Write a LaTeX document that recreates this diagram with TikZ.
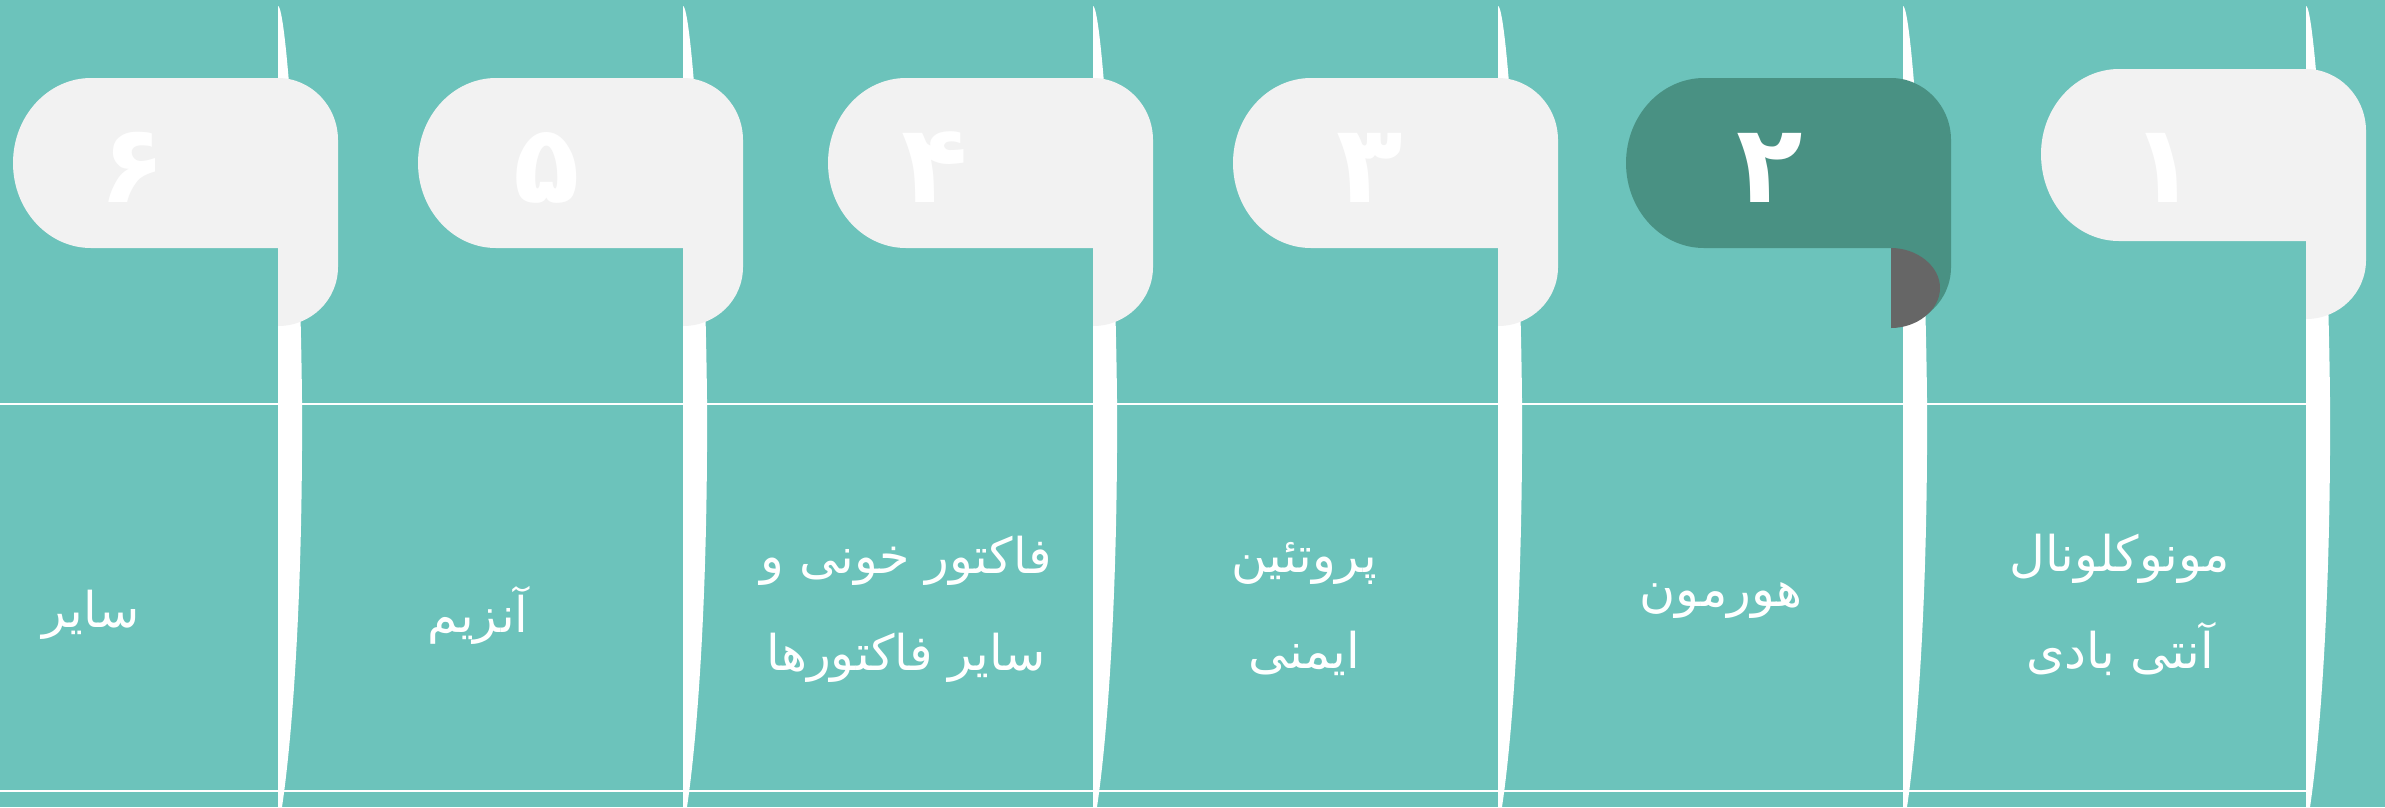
\documentclass[tikz,border=0pt]{standalone}
\usepackage{fontspec}
\newfontfamily\farsi[Script=Arabic]{DejaVu Sans}
\TeXXeTstate=1
\usepackage{tikz}
\usetikzlibrary{calc}

\definecolor{bgteal}{RGB}{108,195,187}
\definecolor{tabgrey}{RGB}{242,242,242}
\definecolor{tabdark}{RGB}{73,145,131}
\definecolor{curlgrey}{RGB}{102,102,102}

\tikzset{
    num/.style={font=\farsi\bfseries\fontsize{31}{31}\selectfont, text=white, anchor=base},
    lbl/.style={font=\farsi\fontsize{14}{27.5}\selectfont, text=white, align=center},
}

\begin{document}
\begin{tikzpicture}[x=0.1mm,y=-0.1mm]
        \fill[bgteal] (0,0) rectangle (2385,807);
        \useasboundingbox (0,0) rectangle (2385,807);

        \coordinate (L1) at (0,404);
        \coordinate (R1) at (2306,404);
        \coordinate (L2) at (0,791);
        \coordinate (R2) at (2306,791);
        \draw[white, line width=0.7pt] (L1) -- (R1);
        \draw[white, line width=0.7pt] (L2) -- (R2);

        % Стрічки
        \foreach \x in {278,683,1093,1498,1903,2306}
            \fill[white] (\x,6) .. controls (\x+8,6) and (\x+22,200) .. (\x+24,400)
                .. controls (\x+25,600) and (\x+14,740) .. (\x+4,807) -- (\x,807) -- cycle;

        % Закладки
        \foreach \x/\t/\b/\c in {278/78/248/tabgrey,683/78/248/tabgrey,1093/78/248/tabgrey,
                                 1498/78/248/tabgrey,1891/78/248/tabdark,2306/69/241/tabgrey}
            \fill[\c] (\x-187,\t) .. controls (\x-230,\t) and (\x-265,\t+38) .. (\x-265,\t+85)
                .. controls (\x-265,\b-38) and (\x-230,\b) .. (\x-187,\b)
                -- (\x,\b) -- (\x,\b+78)
                .. controls (\x+33,\b+78) and (\x+60,\b+52) .. (\x+60,\b+19)
                -- (\x+60,\t+62)
                .. controls (\x+60,\t+28) and (\x+33,\t) .. (\x,\t) -- cycle;

        \fill[curlgrey] (1891,248) .. controls (1917,248) and (1940,266) .. (1940,288)
            .. controls (1940,310) and (1917,328) .. (1891,328) -- cycle;

        \node[num] (n6) at (133,202) {۶};
        \node[num] (n5) at (547,202) {۵};
        \node[num] (n4) at (935,202) {۴};
        \node[num] (n3) at (1370,202) {۳};
        \node[num] (n2) at (1770,202) {۲};
        \node[num] (n1) at (2164,202) {۱};

        \node[lbl] (t1) at (2120,605) {\beginR مونوکلونال\endR\\\beginR آنتی بادی\endR};
        \node[lbl] (t2) at (1721,601) {\beginR هورمون\endR};
        \node[lbl] (t3) at (1304,609) {\beginR پروتئین\endR\\\beginR ایمنی\endR};
        \node[lbl] (t4) at (906,609) {\beginR فاکتور خونی و\endR\\\beginR سایر فاکتورها\endR};
        \node[lbl] (t5) at (478,615) {\beginR آنزیم\endR};
        \node[lbl] (t6) at (91,615) {\beginR سایر\endR};
    \end{tikzpicture}
\end{document}
